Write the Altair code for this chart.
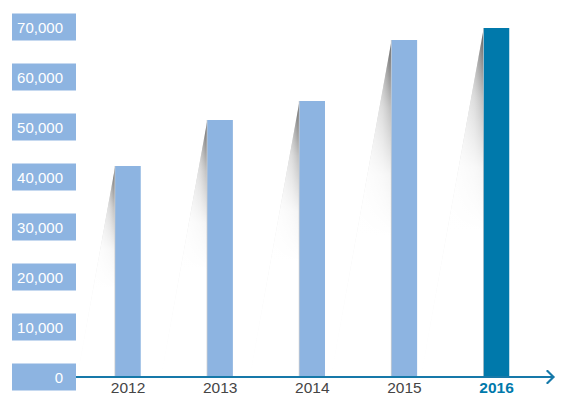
import altair as alt
import pandas as pd

years = ["2012", "2013", "2014", "2015", "2016"]
values = [42200, 51400, 55200, 67400, 69800]
highlight = "2016"
tick_values = [0, 10000, 20000, 30000, 40000, 50000, 60000, 70000]
tick_labels = ["0", "10,000", "20,000", "30,000", "40,000", "50,000", "60,000", "70,000"]

LIGHT = "#8db4e1"
DARK = "#0079ab"
AXIS = "#1679a9"
FONT = "Liberation Sans, Arial, sans-serif"

W, H = 479, 350
px_per_x = 92.125
x_start = -52 / px_per_x
xdom = [x_start, x_start + W / px_per_x]
ydom = [0, 70000]
px_per_y = H / (ydom[1] - ydom[0])
slope = 0.18
half = 12.75 / px_per_x

bars = pd.DataFrame({"year": years, "i": list(range(len(years))), "value": values})
bars["x0"] = bars["i"] - half
bars["x1"] = bars["i"] + half
bars["hl"] = bars["year"] == highlight

rows = []
for _, r in bars.iterrows():
    dx = slope * r["value"] * px_per_y / px_per_x
    rows.append({"year": r["year"], "y": r["value"], "xs": r["x0"], "xe": r["x0"]})
    rows.append({"year": r["year"], "y": 0, "xs": r["x0"] - dx, "xe": r["x0"]})
shadow = pd.DataFrame(rows)

ticks = pd.DataFrame({"v": tick_values, "label": tick_labels})
box_half = 13.5 / px_per_y
ticks["lo"] = ticks["v"] - box_half
ticks["hi"] = ticks["v"] + box_half

xs = alt.Scale(domain=xdom, nice=False, zero=False)
ys = alt.Scale(domain=ydom, nice=False, zero=False)

shade = alt.Chart(shadow).mark_area(
    orient="horizontal",
    color=alt.Gradient(
        gradient="linear",
        stops=[
            alt.GradientStop(color="rgba(170,170,170,0)", offset=0),
            alt.GradientStop(color="rgba(160,160,160,0.25)", offset=0.55),
            alt.GradientStop(color="rgba(110,110,110,0.6)", offset=0.85),
            alt.GradientStop(color="rgba(70,70,70,0.9)", offset=1),
        ],
        x1=0, x2=1, y1=0, y2=0,
    ),
).encode(
    y=alt.Y("y:Q", scale=ys, axis=None),
    x=alt.X("xs:Q", scale=xs, axis=None),
    x2="xe:Q",
    detail="year:N",
)

fade = alt.Chart(shadow).mark_area(
    orient="horizontal",
    color=alt.Gradient(
        gradient="linear",
        stops=[
            alt.GradientStop(color="rgba(255,255,255,0)", offset=0),
            alt.GradientStop(color="rgba(255,255,255,0.6)", offset=0.2),
            alt.GradientStop(color="rgba(255,255,255,0.93)", offset=0.4),
            alt.GradientStop(color="rgba(255,255,255,1)", offset=0.58),
        ],
        x1=0, x2=0, y1=0, y2=1,
    ),
).encode(
    y=alt.Y("y:Q", scale=ys, axis=None),
    x=alt.X("xs:Q", scale=xs, axis=None),
    x2="xe:Q",
    detail="year:N",
)

edge = alt.Chart(bars).mark_rule(color="#cfcfcf", strokeWidth=1.5).encode(
    x=alt.X("x0:Q", scale=xs, axis=None),
    y=alt.Y("value:Q", scale=ys, axis=None),
    y2=alt.datum(0),
)

bar = alt.Chart(bars).mark_rect().encode(
    x=alt.X("x0:Q", scale=xs, axis=None),
    x2="x1:Q",
    y=alt.Y("value:Q", scale=ys, axis=None),
    y2=alt.datum(0),
    color=alt.condition("datum.hl", alt.value(DARK), alt.value(LIGHT)),
)

boxes = alt.Chart(ticks).mark_rect(color=LIGHT).encode(
    x=alt.value(-64),
    x2=alt.value(0),
    y=alt.Y("lo:Q", scale=ys, axis=None),
    y2="hi:Q",
)

box_text = alt.Chart(ticks).mark_text(
    align="right", baseline="middle", color="white", font=FONT, fontSize=15, dy=1
).encode(
    x=alt.value(-13),
    y=alt.Y("v:Q", scale=ys, axis=None),
    text="label:N",
)

axis_line = alt.Chart(bars).mark_rule(color=AXIS, strokeWidth=2).encode(
    x=alt.value(0), x2=alt.value(W - 1), y=alt.value(H)
)

arrow = alt.Chart(bars).mark_point(
    shape="M -1 -1 L 0 0 L -1 1", filled=False, color=AXIS, strokeWidth=1.5, size=170, opacity=1
).encode(x=alt.value(W - 1.5), y=alt.value(H))

xlab = alt.Chart(bars).transform_filter("!datum.hl").mark_text(
    baseline="bottom", color="#454545", font=FONT, fontSize=15.5
).encode(
    x=alt.X("i:Q", scale=xs, axis=None),
    y=alt.value(H + 19),
    text="year:N",
)

xlab_hl = alt.Chart(bars).transform_filter("datum.hl").mark_text(
    baseline="bottom", color=DARK, font=FONT, fontSize=15.5, fontWeight="bold"
).encode(
    x=alt.X("i:Q", scale=xs, axis=None),
    y=alt.value(H + 19),
    text="year:N",
)

chart = alt.layer(shade, fade, edge, bar, boxes, box_text, axis_line, arrow, xlab, xlab_hl).properties(
    width=W,
    height=H,
    autosize=alt.AutoSizeParams(type="none"),
    padding={"left": 68, "top": 19, "right": 0, "bottom": 19},
    background="white",
).configure_view(stroke=None)

chart.save("out.html", embed_options={"renderer": "svg", "actions": False})
